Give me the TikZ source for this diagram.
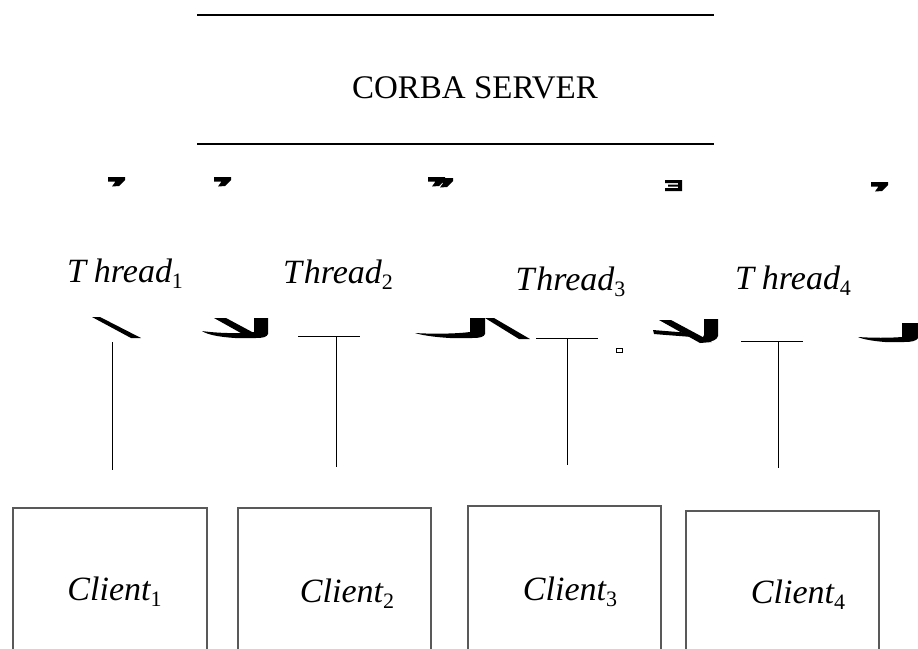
\documentclass[tikz,border=0pt]{standalone}
\usepackage{fontspec}
\setmainfont{Liberation Serif}
\tikzset{
  rule/.style={draw=black, line width=1.2pt},
  stem/.style={draw=black, line width=1pt},
  clientbox/.style={draw=black!65, line width=1.2pt},
  blot/.style={fill=black, draw=none},
  lbl/.style={inner sep=0pt, anchor=base, font=\fontsize{34}{40}\selectfont\itshape},
  title/.style={inner sep=0pt, anchor=base, font=\fontsize{33}{40}\selectfont},
}
% upright index set below the baseline
\newcommand\lowidx[1]{\raisebox{-0.2em}{\fontsize{22}{26}\selectfont\upshape #1}}
% small hooked mark of the upper row
\newcommand\hookmark[2]{%
  \begin{scope}[shift={(#1,#2)}]
    \fill[blot] (0,0) -- (17,0) -- (17,3) -- (11,9) -- (4,9.5) -- (7.5,4.5) -- (0,4.5) -- cycle;
  \end{scope}}
\begin{document}
\begin{tikzpicture}[x=1pt,y=-1pt]
\useasboundingbox (0,0) rectangle (918,648);

% server band
\coordinate (srvTL) at (197,15);  \coordinate (srvTR) at (714,15);
\coordinate (srvBL) at (197,144); \coordinate (srvBR) at (714,144);
\draw[rule] (srvTL) -- (srvTR);
\draw[rule] (srvBL) -- (srvBR);
\node[title] (server) at (475,98.5) {CORBA SERVER};

% upper row of marks
\hookmark{108}{177}
\hookmark{214}{177}
\hookmark{428}{177}
\hookmark{436}{178}
\begin{scope}[shift={(665,180)}]
  \fill[blot] (0,0) -- (17,0) -- (17,11) -- (0,11) -- (0,8) -- (13,8) -- (13,6.5) -- (3,6.5)
    -- (3,4.5) -- (13,4.5) -- (13,3) -- (0,3) -- cycle;
\end{scope}
\hookmark{871}{182}

% thread labels
\node[lbl] (t1) at (125,282) {T\hspace{8pt}hread\lowidx{1}};
\node[lbl] (t2) at (338,283) {T\hspace{2pt}hread\lowidx{2}};
\node[lbl] (t3) at (570.5,290) {T\hspace{2pt}hread\lowidx{3}};
\node[lbl] (t4) at (793,289) {T\hspace{8pt}hread\lowidx{4}};

% lower row of marks
\fill[blot] (92,317) -- (100,317) -- (141,338) -- (131,338) -- cycle;

\fill[blot] (214,318) -- (226,318) -- (254,333) -- (248,337) -- cycle;
\fill[blot] (254,318) -- (268,318) -- (268,334) .. controls (267,337) and (263,338) .. (256,338)
  -- (235,338) .. controls (220,337) and (208,335) .. (202,331)
  .. controls (215,333) and (240,334) .. (254,332) -- cycle;

\fill[blot] (470,318) -- (485,318) -- (485,334) .. controls (484,337) and (480,338) .. (472,338)
  -- (450,338) .. controls (433,337) and (421,335) .. (415,333)
  .. controls (430,334) and (455,334) .. (470,332) -- cycle;
\fill[blot] (485,318) -- (494,318) -- (530,339) -- (519,339) -- cycle;

\draw[line width=0.8pt] (616,348) rectangle (622,352);

\fill[blot] (659,320) -- (671,320) -- (712,342) -- (700,343) -- cycle;
\fill[blot] (653,330) .. controls (665,331) and (678,332) .. (690,333) -- (692,337)
  .. controls (680,336) and (665,335) .. (654,334) -- cycle;
\fill[blot] (704,319) -- (718,319) -- (718,336) .. controls (717,340) and (712,342) .. (704,342)
  -- (700,343) -- (704,335) -- cycle;

\fill[blot] (902,323) -- (918,323) -- (918,338) .. controls (916,341) and (912,342) .. (904,342)
  -- (885,342) .. controls (872,341) and (862,339) .. (858,337)
  .. controls (872,338) and (890,338) .. (902,337) -- cycle;

% thread stems
\coordinate (s1a) at (112,342); \coordinate (s1b) at (112,470);
\draw[stem] (s1a) -- (s1b);

\coordinate (h2l) at (298,336); \coordinate (h2r) at (360,336);
\coordinate (s2a) at (336,336); \coordinate (s2b) at (336,467);
\draw[stem] (h2l) -- (h2r);
\draw[stem] (s2a) -- (s2b);

\coordinate (h3l) at (536,338); \coordinate (h3r) at (598,338);
\coordinate (s3a) at (567,338); \coordinate (s3b) at (567,465);
\draw[stem] (h3l) -- (h3r);
\draw[stem] (s3a) -- (s3b);

\coordinate (h4l) at (741,341); \coordinate (h4r) at (803,341);
\coordinate (s4a) at (778,341); \coordinate (s4b) at (778,468);
\draw[stem] (h4l) -- (h4r);
\draw[stem] (s4a) -- (s4b);

% client boxes, open past the lower edge
\draw[clientbox] (13,652) -- (13,508) -- (207,508) -- (207,652);
\draw[clientbox] (238,652) -- (238,508) -- (431,508) -- (431,652);
\draw[clientbox] (468,652) -- (468,506) -- (661,506) -- (661,652);
\draw[clientbox] (686,652) -- (686,511) -- (879,511) -- (879,652);

\node[lbl] (c1) at (114.5,600) {Client\lowidx{1}};
\node[lbl] (c2) at (347,602) {Client\lowidx{2}};
\node[lbl] (c3) at (570,600) {Client\lowidx{3}};
\node[lbl] (c4) at (798,603) {Client\lowidx{4}};
\end{tikzpicture}
\end{document}
